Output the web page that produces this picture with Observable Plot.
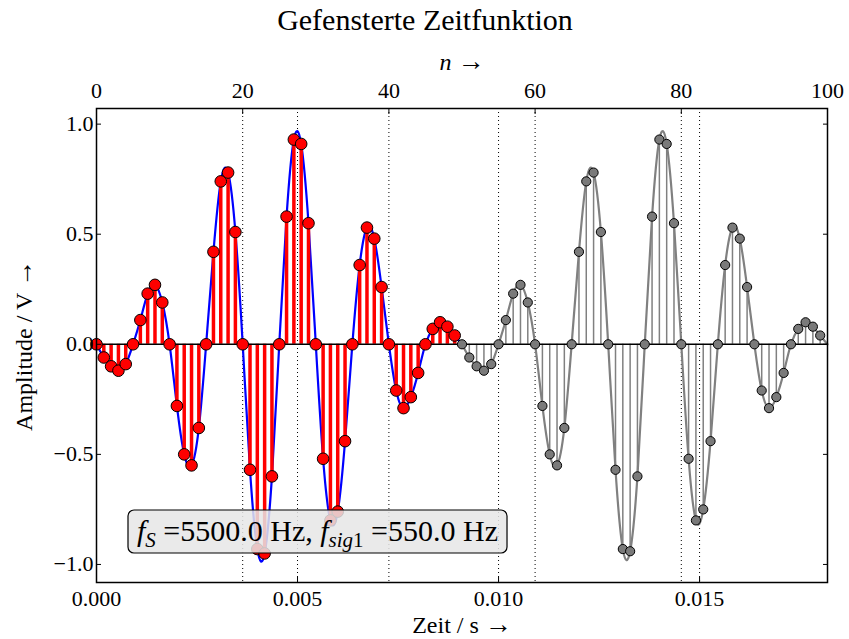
<!DOCTYPE html>
<html><head><meta charset="utf-8">
<script src="https://cdn.jsdelivr.net/npm/d3@7"></script>
<script src="https://cdn.jsdelivr.net/npm/@observablehq/plot@0.6"></script>
<style>body{margin:0;background:#fff} svg{display:block}</style>
</head><body><div id="chart"></div>
<script>
const fs = 5500;
const fsig = 550;
const titleText = "Gefensterte Zeitfunktion";
// windowed samples n = 0..49 (red)
const windowedValues = [0, -0.06, -0.10, -0.12, -0.09, 0, 0.11, 0.23, 0.27, 0.19,
  0, -0.28, -0.50, -0.55, -0.38, 0, 0.42, 0.74, 0.78, 0.51,
  0, -0.57, -0.93, -0.95, -0.60, 0, 0.58, 0.93, 0.91, 0.55,
  0, -0.52, -0.80, -0.76, -0.44, 0, 0.36, 0.53, 0.48, 0.26,
  0, -0.21, -0.29, -0.24, -0.13, 0, 0.07, 0.10, 0.08, 0.04];
// periodic repetition n = 50..99 (gray)
const repeatedValues = [0, -0.06, -0.10, -0.12, -0.09, 0, 0.11, 0.23, 0.27, 0.19,
  0, -0.28, -0.50, -0.55, -0.38, 0, 0.42, 0.74, 0.78, 0.51,
  0, -0.57, -0.93, -0.94, -0.60, 0, 0.58, 0.93, 0.91, 0.55,
  0, -0.52, -0.80, -0.75, -0.44, 0, 0.36, 0.53, 0.48, 0.26,
  0, -0.21, -0.29, -0.24, -0.13, 0, 0.07, 0.10, 0.08, 0.04];
const nTicks = [0, 20, 40, 60, 80, 100];
const timeTicks = [0, 0.005, 0.010, 0.015];
const yTicks = [-1, -0.5, 0, 0.5, 1];
const nGrid = [20, 40, 60, 80];
const timeGrid = [0.005, 0.010, 0.015];

const red = windowedValues.map((v, i) => ({n: i, v}));
const gray = repeatedValues.map((v, i) => ({n: 50 + i, v}));
const blueLine = red.concat([gray[0]]);
const grayLine = gray.concat([{n: 100, v: windowedValues[0]}]);

const font = "'Liberation Serif', 'Times New Roman', serif";
const f1 = d3.format(".1f"), f3 = d3.format(".3f");

const plot = Plot.plot({
  width: 849, height: 639,
  marginTop: 108, marginBottom: 57, marginLeft: 96, marginRight: 22,
  style: {fontFamily: font, fontSize: "22px", background: "#fff", color: "#000"},
  x: {domain: [0, 100], axis: null},
  y: {domain: [-1.082, 1.071], axis: null},
  marks: [
    Plot.ruleX(nGrid, {stroke: "#000", strokeWidth: 1, strokeDasharray: "1,3"}),
    Plot.ruleX(timeGrid.map(t => t * fs), {stroke: "#000", strokeWidth: 1, strokeDasharray: "1,3"}),
    Plot.line(blueLine, {x: "n", y: "v", curve: "natural", stroke: "#0000ff", strokeWidth: 2.2}),
    Plot.line(grayLine, {x: "n", y: "v", curve: "natural", stroke: "#808080", strokeWidth: 2.2}),
    Plot.ruleX(red, {x: "n", y1: 0, y2: "v", stroke: "#ff0000", strokeWidth: 3.5}),
    Plot.ruleX(gray, {x: "n", y1: 0, y2: "v", stroke: "#808080", strokeWidth: 1.5}),
    Plot.ruleY([0], {stroke: "#000", strokeWidth: 1.5}),
    Plot.dot(red, {x: "n", y: "v", r: 5.8, fill: "#ff0000", stroke: "#000", strokeWidth: 1}),
    Plot.dot(gray, {x: "n", y: "v", r: 4.6, fill: "#7a7a7a", stroke: "#000", strokeWidth: 1}),
    Plot.frame({stroke: "#000", strokeWidth: 1.5}),
    Plot.axisX(nTicks, {anchor: "top", tickSize: -5, tickPadding: 16, tickFormat: d => String(d), fontSize: 22, label: null}),
    Plot.axisX(timeTicks.map(t => t * fs), {anchor: "bottom", tickSize: -5, tickPadding: 13, tickFormat: d => f3(d / fs), fontSize: 22, label: null}),
    Plot.axisY(yTicks, {anchor: "left", tickSize: -5, tickPadding: 8, tickFormat: d => f1(d), fontSize: 22, label: null}),
    Plot.axisY(yTicks, {anchor: "right", tickSize: -5, tickFormat: () => "", label: null}),
    Plot.text([titleText], {frameAnchor: "top", dy: -88, dx: -37, fontSize: 30, lineAnchor: "middle", textAnchor: "middle"}),
    Plot.text(["n →"], {frameAnchor: "top", dy: -46, fontSize: 24, fontStyle: "italic", lineAnchor: "middle", textAnchor: "middle"}),
    Plot.text(["Zeit / s →"], {frameAnchor: "bottom", dy: 43, fontSize: 24, lineAnchor: "middle", textAnchor: "middle"}),
    Plot.text(["Amplitude / V →"], {frameAnchor: "left", dx: -72, rotate: -90, fontSize: 24, lineAnchor: "middle", textAnchor: "middle"})
  ]
});
document.getElementById("chart").appendChild(plot);

const svg = d3.select(plot);
// draw the arrows of the axis labels larger, like a math arrow
svg.selectAll("text").each(function() {
  const el = d3.select(this);
  const s = this.textContent;
  if (this.childElementCount === 0 && s.endsWith(" →")) {
    const fsStyle = s === "n →" ? "italic" : null;
    el.text(null);
    el.append("tspan").attr("font-style", fsStyle).text(s.slice(0, -1));
    el.append("tspan").attr("font-size", 27).attr("font-style", "normal").text("→");
  }
});

// annotation box
const g = svg.append("g").attr("font-family", font).attr("fill", "#000").attr("text-anchor", "start");
const rect = g.append("rect").attr("fill", "#e6e6e6").attr("fill-opacity", 0.85)
  .attr("stroke", "#000").attr("stroke-width", 1.2).attr("rx", 6);
const t = g.append("text").attr("x", 137).attr("y", 541).attr("font-size", 30).attr("text-anchor", "start");
t.append("tspan").attr("font-style", "italic").text("f");
t.append("tspan").attr("font-style", "italic").attr("font-size", 21).attr("dy", 6).text("S");
t.append("tspan").attr("dy", -6).text(" =" + fs.toFixed(1) + " Hz, ");
t.append("tspan").attr("font-style", "italic").text("f");
t.append("tspan").attr("font-style", "italic").attr("font-size", 21).attr("dy", 6).text("sig");
t.append("tspan").attr("font-size", 21).text("1");
t.append("tspan").attr("dy", -6).text(" =" + fsig.toFixed(1) + " Hz");
const bb = t.node().getBBox();
rect.attr("x", bb.x - 9).attr("y", 510).attr("width", bb.width + 18).attr("height", 43);
</script></body></html>
